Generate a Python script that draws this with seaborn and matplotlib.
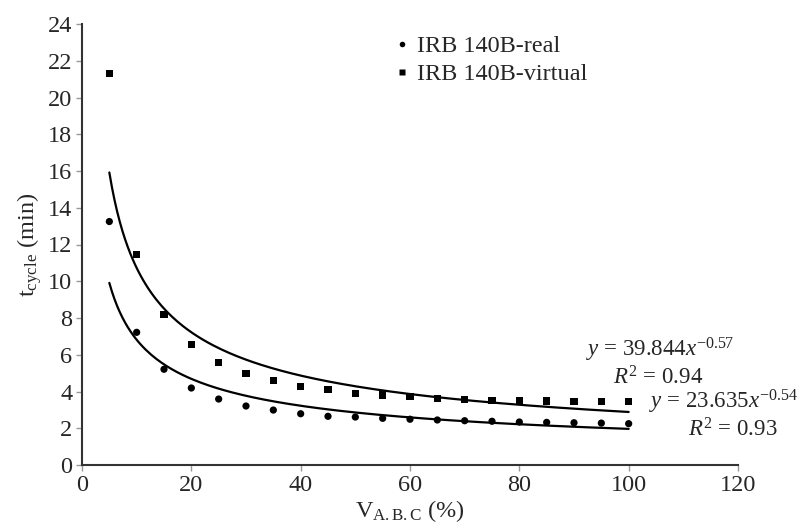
import numpy as np
import pandas as pd
import matplotlib
matplotlib.use("Agg")
import matplotlib.pyplot as plt
import seaborn as sns

# data
v_abc = [5, 10, 15, 20, 25, 30, 35, 40, 45, 50, 55, 60, 65, 70, 75, 80, 85, 90, 95, 100]
t_real = [13.25, 7.22, 5.21, 4.19, 3.59, 3.21, 2.99, 2.79, 2.65, 2.61,
          2.54, 2.49, 2.45, 2.41, 2.38, 2.34, 2.32, 2.30, 2.28, 2.25]
t_virtual = [21.3, 11.47, 8.2, 6.57, 5.59, 4.97, 4.59, 4.28, 4.10, 3.90,
             3.81, 3.72, 3.63, 3.57, 3.52, 3.48, 3.48, 3.47, 3.45, 3.44]
labels = ["IRB 140B-real", "IRB 140B-virtual"]

# power trendlines as printed on the chart: y = a * x^b
fit_real = (23.635, -0.54)
fit_virtual = (39.844, -0.57)

sns.set_style("white")
plt.rcParams["font.family"] = ["Liberation Serif", "DejaVu Serif"]
plt.rcParams["mathtext.fontset"] = "custom"
plt.rcParams["mathtext.rm"] = "Liberation Serif"
plt.rcParams["mathtext.it"] = "Liberation Serif:italic"

FS = 17.5
EQ = 16.5

df = pd.DataFrame({
    "x": v_abc * 2,
    "y": t_real + t_virtual,
    "series": [labels[0]] * len(v_abc) + [labels[1]] * len(v_abc),
})

fig = plt.figure(figsize=(8.01, 5.28), dpi=100)
ax = fig.add_axes([82 / 801, 1 - 465 / 528, (738 - 82) / 801, (465 - 24) / 528])

sns.scatterplot(data=df, x="x", y="y", style="series", markers={labels[0]: "o", labels[1]: "s"},
                color="black", s=27, edgecolor="none", ax=ax)

xs = np.linspace(5, 100, 200)
for a, b in (fit_real, fit_virtual):
    sns.lineplot(x=xs, y=a * xs ** b, color="black", linewidth=1.6, ax=ax)

ax.set_xlim(0, 120)
ax.set_ylim(0, 24)
ax.set_xticks(range(0, 121, 20))
ax.set_yticks(range(0, 25, 2))
ax.tick_params(labelsize=FS, length=4, width=1, color="#999999", pad=3, direction="out")
ax.tick_params(axis="both", which="both", bottom=True, left=True)
sns.despine(ax=ax)
for side in ("left", "bottom"):
    ax.spines[side].set_linewidth(1.5)
    ax.spines[side].set_color("#333333")

ax.set_xlabel(r"V$_{\mathrm{A{.}B{.}C}}$ (%)", fontsize=FS, labelpad=2)
ax.set_ylabel(r"t$_{\mathrm{cycle}}$ (min)", fontsize=FS, labelpad=3)

ax.text(105.7, 6.25, r"$y$ = 39.844$x^{-0.57}$", fontsize=EQ, ha="center", va="center", clip_on=False)
ax.text(105.4, 4.72, r"$R^2$ = 0.94", fontsize=EQ, ha="center", va="center", clip_on=False)
ax.text(117.4, 3.45, r"$y$ = 23.635$x^{-0.54}$", fontsize=EQ, ha="center", va="center", clip_on=False)
ax.text(119.1, 1.92, r"$R^2$ = 0.93", fontsize=EQ, ha="center", va="center", clip_on=False)

handles, lbls = ax.get_legend_handles_labels()
for h in handles:
    h.set_markersize(4)
ax.legend(handles, lbls, loc="upper left", bbox_to_anchor=(396 / 801, 1 - 35 / 528),
          bbox_transform=fig.transFigure, frameon=False, fontsize=FS,
          handlelength=0.5, handletextpad=0.35, labelspacing=0.25, borderaxespad=0, borderpad=0)

fig.savefig("out.png", dpi=100)
